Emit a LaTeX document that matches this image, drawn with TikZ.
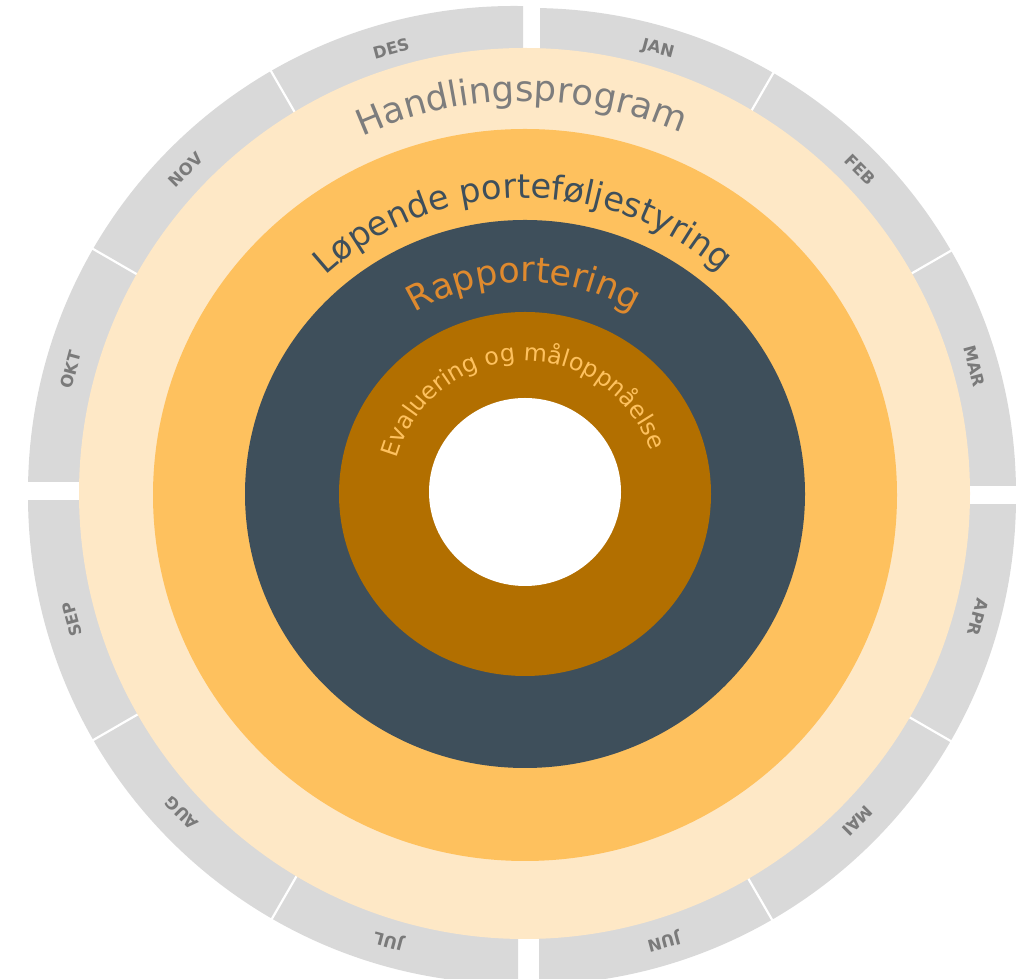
\documentclass[tikz,border=0pt]{standalone}
\usepackage{fontspec}
\setmainfont{DejaVu Sans}
\usetikzlibrary{decorations.text,calc}
\definecolor{gring}{RGB}{217,217,217}
\definecolor{lightring}{RGB}{254,232,198}
\definecolor{orangering}{RGB}{254,193,94}
\definecolor{darkring}{RGB}{62,79,91}
\definecolor{brownring}{RGB}{178,111,0}
\definecolor{graytext}{RGB}{125,125,125}
\definecolor{rapptext}{RGB}{223,138,46}
\definecolor{monthtext}{RGB}{122,122,122}
\newcommand\fhand{\fontsize{35.5}{35.5}\selectfont}
\newcommand\flop{\fontsize{33.6}{33.6}\selectfont}
\newcommand\frapp{\fontsize{35}{35}\selectfont}
\newcommand\feval{\fontsize{23.8}{23.8}\selectfont}
\begin{document}
\begin{tikzpicture}[x=1pt,y=1pt,
  sep/.style={white,line width=2.2pt},
  month/.style={font=\fontsize{16.5}{16.5}\selectfont\bfseries,text=monthtext,inner sep=0pt,anchor=center},
  ringtext/.style={decorate,decoration={text along path,text align=center,text={#1}}}]
\useasboundingbox (0,0) rectangle (1020,979);
\coordinate (TL) at (514,487);
\coordinate (TR) at (530.5,485.5);
\coordinate (BL) at (516,483);
\coordinate (BR) at (528,482);
\coordinate (C) at (525,485);
% month ring quadrants
\begin{scope}
\clip (-10,497) rectangle (523,990);
\fill[gring] (TL) circle[radius=486];
\end{scope}
\begin{scope}
\clip (540,493) rectangle (1030,990);
\fill[gring] (TR) circle[radius=485.5];
\end{scope}
\begin{scope}
\clip (-10,-10) rectangle (518,478);
\fill[gring] (BL) circle[radius=488];
\end{scope}
\begin{scope}
\clip (539,-10) rectangle (1030,474);
\fill[gring] (BR) circle[radius=488];
\end{scope}
% month separators
\foreach \a in {120,150} \draw[sep] ([shift={(\a:380)}]TL) -- ([shift={(\a:495)}]TL);
\foreach \a in {60,30} \draw[sep] ([shift={(\a:380)}]TR) -- ([shift={(\a:495)}]TR);
\foreach \a in {-30,-60} \draw[sep] ([shift={(\a:380)}]BR) -- ([shift={(\a:495)}]BR);
\foreach \a in {-120,-150} \draw[sep] ([shift={(\a:380)}]BL) -- ([shift={(\a:495)}]BL);
% month labels
\node[month,rotate=-15] (jan) at ([shift={(74:462)}]TR) {JAN};
\node[month,rotate=-45] (feb) at ([shift={(44.5:462)}]TR) {FEB};
\node[month,rotate=-75] (mar) at ([shift={(16:462)}]TR) {MAR};
\node[month,rotate=-105] (apr) at ([shift={(-15:466)}]BR) {APR};
\node[month,rotate=-135] (mai) at ([shift={(-44.5:462)}]BR) {MAI};
\node[month,rotate=-165] (jun) at ([shift={(-73:464)}]BR) {JUN};
\node[month,rotate=165] (jul) at ([shift={(-106:462)}]BL) {JUL};
\node[month,rotate=135] (aug) at ([shift={(-136.5:461)}]BL) {AUG};
\node[month,rotate=105] (sep) at ([shift={(-164.5:461)}]BL) {SEP};
\node[month,rotate=75] (okt) at ([shift={(164.6:460)}]TL) {OKT};
\node[month,rotate=45] (nov) at ([shift={(135.5:460)}]TL) {NOV};
\node[month,rotate=15] (des) at ([shift={(105.5:460)}]TL) {DES};
% rings
\fill[lightring] (524.5,485.5) circle[radius=445.5];
\fill[orangering] (525,484) ellipse[x radius=372,y radius=366];
\fill[darkring] (525,485) ellipse[x radius=280,y radius=274];
\fill[brownring] (525,485) ellipse[x radius=186,y radius=182];
\fill[white] (525,487) ellipse[x radius=96,y radius=94];
% ring texts
\path[ringtext={|\fhand\color{graytext}|Handlingsprogram}]
  ($(C)+(130:393)$) arc[start angle=130,end angle=51,radius=393];
\path[ringtext={|\flop\color{darkring}|Løpende porteføljestyring}]
  ($(C)+(140:296)$) arc[start angle=140,end angle=41,radius=296];
\path[ringtext={|\frapp\color{rapptext}|Rapportering}]
  ($(C)+(135:212)$) arc[start angle=135,end angle=45.6,radius=212];
\path[ringtext={|\feval\color{orangering}|Evaluering og måloppnåelse}]
  ($(C)+(176:133)$) arc[start angle=176,end angle=7.2,radius=133];
\end{tikzpicture}
\end{document}
